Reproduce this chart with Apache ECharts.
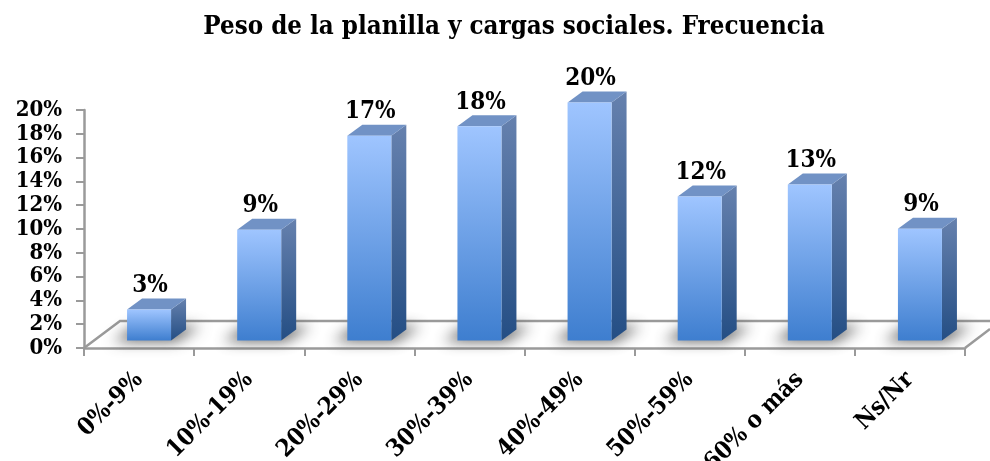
<!DOCTYPE html>
<html><head><meta charset="utf-8">
<style>html,body{margin:0;padding:0;background:#fff}#c{width:990px;height:461px}</style>
<script src="https://cdn.jsdelivr.net/npm/echarts@6/dist/echarts.min.js"></script>
</head><body><div id="c"></div>
<script>
const categories = ['0%-9%','10%-19%','20%-29%','30%-39%','40%-49%','50%-59%','60% o más','Ns/Nr'];
const values = [2.6, 9.3, 17.2, 18.0, 20.0, 12.1, 13.1, 9.4];
const valueLabels = ['3%','9%','17%','18%','20%','12%','13%','9%'];
const FONT = '"DejaVu Serif Condensed", "DejaVu Serif", serif';
const GREY = '#9a9a9a';
const W = 44, DX = 15, DY = 11, SHIFT_X = 10, SHIFT_Y = 7.5, OFF = 3000;

function grad(a, b) {
  return {type:'linear', x:0, y:0, x2:0, y2:1, colorStops:[{offset:0,color:a},{offset:1,color:b}]};
}
function renderBar(params, api) {
  const i = api.value(0);
  const top = api.coord([i, api.value(1)]);
  const base = api.coord([i, 0]);
  const x0 = base[0] + SHIFT_X - W/2, x1 = x0 + W;
  const yb = base[1] - SHIFT_Y, yt = top[1] - SHIFT_Y;
  return {type:'group', children:[
    {type:'polygon', shape:{points:[[x0-14-OFF,yb+1],[x1+4-OFF,yb+1],[x1+30-OFF,yb-14],[x0+8-OFF,yb-14]]},
     style:{fill:'#555', shadowBlur:14, shadowColor:'rgba(70,70,70,0.85)', shadowOffsetX:OFF}},
    {type:'polygon', shape:{points:[[x1,yt],[x1+DX,yt-DY],[x1+DX,yb-DY],[x1,yb]]},
     style:{fill:grad('#6681ae','#244e84')}},
    {type:'polygon', shape:{points:[[x0,yt],[x0+DX,yt-DY],[x1+DX,yt-DY],[x1,yt]]},
     style:{fill:'#7192c5'}},
    {type:'rect', shape:{x:x0,y:yt,width:W,height:yb-yt},
     style:{fill:grad('#9fc5ff','#3e7ecf')}},
    {type:'text', style:{text:valueLabels[i], x:x0+W/2+1, y:yt-24, align:'center', verticalAlign:'middle',
      font:'bold 24px '+FONT, fill:'#000'}}
  ]};
}
function renderFloor(params) {
  const c = params.coordSys;
  const l = c.x, b = c.y + c.height;
  return {type:'polyline', shape:{points:[[l,b],[l+36,b-27],[990,b-27]]}, style:{stroke:GREY, lineWidth:2.5, fill:null}};
}
function renderFloorRight(params) {
  const c = params.coordSys;
  const r = c.x + c.width, b = c.y + c.height;
  return {type:'line', shape:{x1:r,y1:b,x2:r+25,y2:b-19}, style:{stroke:GREY, lineWidth:2.5}};
}
const chart = echarts.init(document.getElementById('c'), null, {renderer:'canvas'});
chart.setOption({
  animation:false,
  title:{text:'Peso de la planilla y cargas sociales. Frecuencia', left:509, top:9, textAlign:'center',
    textStyle:{fontFamily:FONT, fontWeight:'bold', fontSize:25.7, color:'#000'}},
  grid:{left:84, right:25, top:110, bottom:113, outerBoundsMode:'none'},
  xAxis:{type:'category', data:categories,
    axisLine:{lineStyle:{color:GREY,width:2.5}},
    axisTick:{show:true, length:8, alignWithLabel:false, lineStyle:{color:GREY,width:2}},
    axisLabel:{rotate:45, margin:28, interval:0, hideOverlap:false, fontFamily:FONT, fontWeight:'bold', fontSize:24, color:'#000'}},
  yAxis:{type:'value', min:0, max:20, interval:2,
    axisLine:{show:true, lineStyle:{color:GREY,width:2.5}},
    axisTick:{show:true, length:8, lineStyle:{color:GREY,width:2}},
    splitLine:{show:false},
    axisLabel:{margin:22, formatter:'{value}%', fontFamily:FONT, fontWeight:'bold', fontSize:22, color:'#000'}},
  series:[
    {type:'custom', z:1, clip:false, silent:true, data:[[0,0]], renderItem:renderFloor, encode:{x:0,y:1}},
    {type:'custom', z:1, clip:false, silent:true, data:[[0,0]], renderItem:renderFloorRight, encode:{x:0,y:1}},
    {type:'custom', z:3, clip:false, data:values.map((v,i)=>[i,v]), renderItem:renderBar, encode:{x:0,y:1}}
  ]
});
</script></body></html>
